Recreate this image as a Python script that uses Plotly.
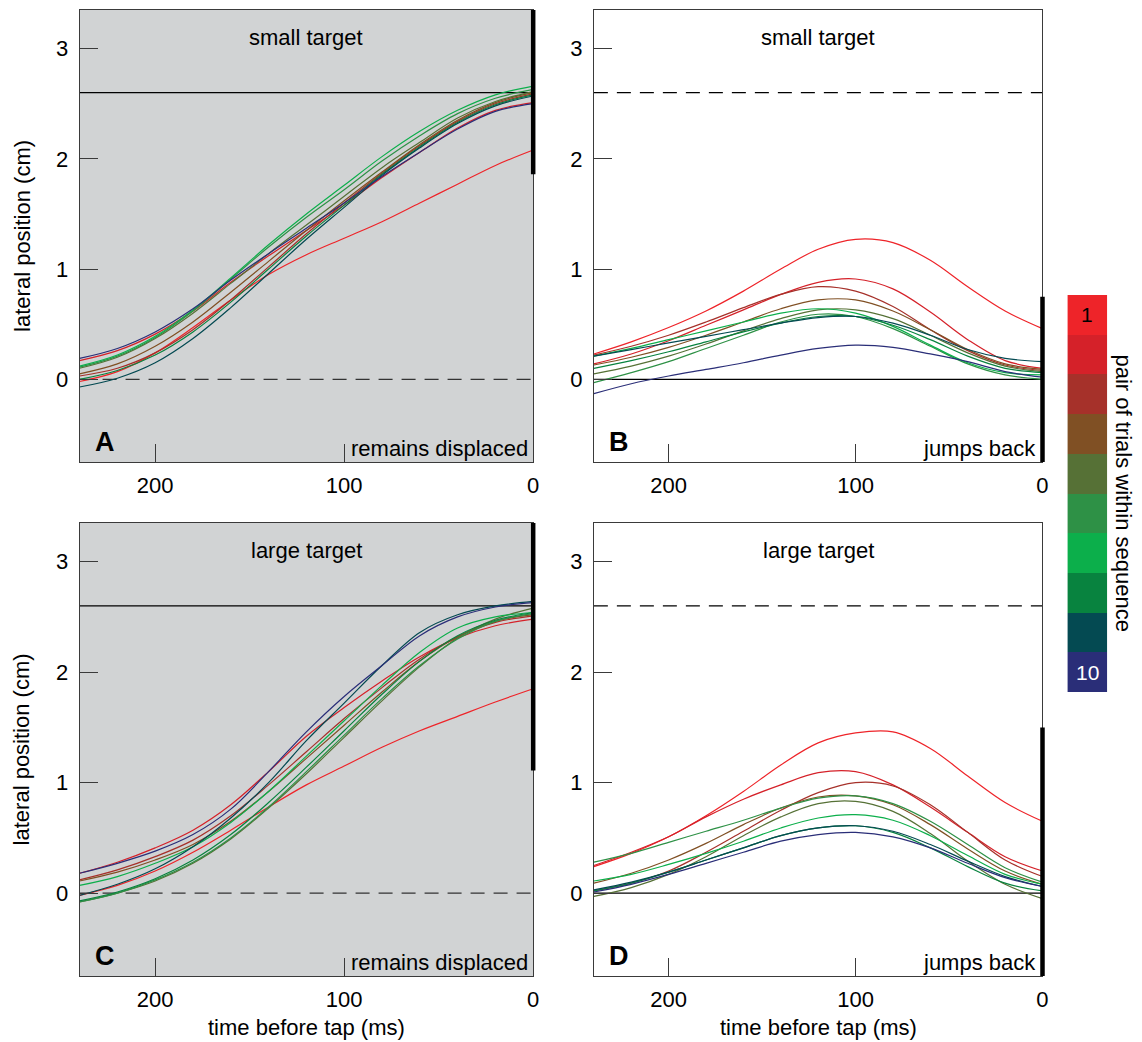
import plotly.graph_objects as go

# ---------------- data ----------------
time_ms = [240, 220, 200, 180, 160, 140, 120, 100, 80, 60, 40, 20, 0]
pair_labels = [str(i) for i in range(1, 11)]
pair_colors = ['#EE2429', '#D52129', '#A6312A', '#805024', '#567136',
               '#2E9146', '#0CAF4B', '#08833F', '#044A52', '#2A2E78']

# Panel A: small target, remains displaced (pairs 1..10)
panel_a = [
    [-0.02, 0.07, 0.24, 0.47, 0.72, 0.95, 1.13, 1.28, 1.43, 1.60, 1.77, 1.94, 2.08],
    [0.17, 0.26, 0.41, 0.62, 0.88, 1.12, 1.35, 1.58, 1.83, 2.06, 2.28, 2.44, 2.51],
    [0.03, 0.10, 0.24, 0.45, 0.72, 1.02, 1.32, 1.60, 1.87, 2.12, 2.34, 2.50, 2.59],
    [0.05, 0.14, 0.30, 0.52, 0.79, 1.07, 1.35, 1.62, 1.88, 2.13, 2.35, 2.51, 2.60],
    [0.10, 0.20, 0.37, 0.60, 0.87, 1.14, 1.40, 1.66, 1.92, 2.15, 2.37, 2.52, 2.61],
    [0.11, 0.21, 0.38, 0.62, 0.91, 1.20, 1.47, 1.72, 1.98, 2.21, 2.41, 2.55, 2.63],
    [0.12, 0.22, 0.39, 0.63, 0.92, 1.22, 1.50, 1.76, 2.02, 2.25, 2.44, 2.58, 2.66],
    [0.00, 0.08, 0.22, 0.43, 0.70, 1.00, 1.30, 1.58, 1.86, 2.11, 2.33, 2.49, 2.58],
    [-0.07, 0.01, 0.15, 0.37, 0.65, 0.96, 1.27, 1.56, 1.85, 2.10, 2.32, 2.48, 2.57],
    [0.19, 0.28, 0.43, 0.64, 0.90, 1.14, 1.37, 1.60, 1.84, 2.06, 2.27, 2.43, 2.50],
]
# Panel B: small target, jumps back
panel_b = [
    [0.23, 0.34, 0.47, 0.62, 0.80, 1.00, 1.18, 1.27, 1.24, 1.08, 0.84, 0.62, 0.46],
    [0.14, 0.23, 0.35, 0.49, 0.63, 0.77, 0.88, 0.91, 0.82, 0.61, 0.36, 0.17, 0.10],
    [0.22, 0.30, 0.40, 0.52, 0.65, 0.77, 0.84, 0.80, 0.66, 0.45, 0.26, 0.13, 0.08],
    [0.13, 0.20, 0.29, 0.40, 0.52, 0.64, 0.72, 0.72, 0.62, 0.45, 0.27, 0.14, 0.09],
    [0.05, 0.12, 0.21, 0.32, 0.44, 0.55, 0.63, 0.63, 0.55, 0.40, 0.24, 0.12, 0.07],
    [-0.03, 0.06, 0.16, 0.28, 0.40, 0.52, 0.59, 0.57, 0.46, 0.30, 0.14, 0.04, 0.00],
    [0.21, 0.28, 0.36, 0.44, 0.52, 0.60, 0.64, 0.60, 0.48, 0.31, 0.15, 0.06, 0.04],
    [0.10, 0.17, 0.25, 0.34, 0.43, 0.51, 0.57, 0.57, 0.49, 0.36, 0.21, 0.10, 0.06],
    [0.21, 0.27, 0.33, 0.39, 0.45, 0.51, 0.56, 0.57, 0.51, 0.40, 0.27, 0.19, 0.16],
    [-0.13, -0.04, 0.03, 0.09, 0.15, 0.22, 0.28, 0.31, 0.29, 0.23, 0.16, 0.07, 0.02],
]
# Panel C: large target, remains displaced
panel_c = [
    [-0.02, 0.07, 0.20, 0.37, 0.57, 0.78, 0.98, 1.15, 1.32, 1.47, 1.60, 1.73, 1.85],
    [0.18, 0.28, 0.41, 0.57, 0.80, 1.10, 1.42, 1.68, 1.92, 2.14, 2.31, 2.42, 2.48],
    [0.12, 0.21, 0.33, 0.48, 0.70, 0.98, 1.28, 1.58, 1.86, 2.12, 2.32, 2.45, 2.51],
    [0.11, 0.19, 0.30, 0.44, 0.65, 0.92, 1.22, 1.52, 1.82, 2.10, 2.32, 2.46, 2.52],
    [-0.08, 0.00, 0.11, 0.27, 0.49, 0.77, 1.08, 1.41, 1.74, 2.05, 2.31, 2.48, 2.58],
    [-0.08, 0.00, 0.12, 0.28, 0.50, 0.78, 1.10, 1.43, 1.76, 2.06, 2.30, 2.46, 2.53],
    [0.07, 0.15, 0.27, 0.42, 0.64, 0.92, 1.24, 1.56, 1.88, 2.18, 2.40, 2.50, 2.54],
    [-0.07, 0.01, 0.13, 0.30, 0.53, 0.82, 1.14, 1.47, 1.80, 2.10, 2.33, 2.47, 2.54],
    [-0.02, 0.08, 0.22, 0.42, 0.68, 1.00, 1.38, 1.72, 2.06, 2.36, 2.52, 2.60, 2.64],
    [0.18, 0.27, 0.38, 0.53, 0.76, 1.10, 1.46, 1.78, 2.06, 2.33, 2.50, 2.59, 2.63],
]
# Panel D: large target, jumps back
panel_d = [
    [0.24, 0.36, 0.51, 0.70, 0.92, 1.16, 1.36, 1.45, 1.46, 1.31, 1.06, 0.82, 0.65],
    [0.25, 0.37, 0.51, 0.69, 0.85, 0.98, 1.09, 1.10, 0.98, 0.78, 0.55, 0.33, 0.20],
    [0.02, 0.09, 0.20, 0.37, 0.56, 0.75, 0.91, 1.00, 0.97, 0.80, 0.55, 0.30, 0.15],
    [0.09, 0.18, 0.30, 0.45, 0.62, 0.77, 0.87, 0.88, 0.80, 0.62, 0.40, 0.20, 0.08],
    [-0.03, 0.05, 0.17, 0.33, 0.52, 0.69, 0.81, 0.83, 0.74, 0.54, 0.29, 0.08, -0.05],
    [0.28, 0.36, 0.46, 0.56, 0.66, 0.77, 0.86, 0.88, 0.81, 0.65, 0.44, 0.23, 0.10],
    [0.11, 0.17, 0.26, 0.36, 0.47, 0.59, 0.68, 0.71, 0.66, 0.52, 0.34, 0.17, 0.08],
    [0.02, 0.09, 0.19, 0.30, 0.41, 0.52, 0.59, 0.61, 0.55, 0.41, 0.24, 0.09, 0.02],
    [0.03, 0.10, 0.19, 0.30, 0.41, 0.52, 0.59, 0.61, 0.56, 0.44, 0.29, 0.15, 0.06],
    [0.01, 0.08, 0.17, 0.27, 0.37, 0.47, 0.53, 0.55, 0.51, 0.41, 0.27, 0.14, 0.06],
]

target_pos = 2.6      # displaced target position (cm)
start_pos = 0.0       # original target position (cm)
# thick bar at tap time: (low, high) in cm
bar_a = [1.86, 3.35]
bar_b = [-0.75, 0.75]
bar_c = [1.11, 3.35]
bar_d = [-0.75, 1.50]

panel_titles = ['small target', 'small target', 'large target', 'large target']
panel_letters = ['A', 'B', 'C', 'D']
panel_notes = ['remains displaced', 'jumps back', 'remains displaced', 'jumps back']

x_ticks = [200, 100, 0]
y_ticks = [0, 1, 2, 3]

# ---------------- figure ----------------
FONT = 'Liberation Sans, Arial, Helvetica, sans-serif'
FS = 22
GRAY = '#D1D3D4'
FRAME = '#3a3a3a'

fig = go.Figure()

panels = [panel_a, panel_b, panel_c, panel_d]
bars = [bar_a, bar_b, bar_c, bar_d]
axnames = [('x', 'y'), ('x2', 'y2'), ('x3', 'y3'), ('x4', 'y4')]

for p, data in enumerate(panels):
    xa, ya = axnames[p]
    for i, ys in enumerate(data):
        fig.add_trace(go.Scatter(
            x=time_ms, y=ys, mode='lines', xaxis=xa, yaxis=ya,
            line=dict(color=pair_colors[i], width=1.2, shape='spline'),
            showlegend=False, hoverinfo='skip'))

shapes = []
annotations = []
for p in range(4):
    xa, ya = axnames[p]
    displaced = (p % 2 == 0)
    if displaced:
        shapes.append(dict(type='rect', xref=xa + ' domain', yref=ya + ' domain',
                           x0=0, x1=1, y0=0, y1=1, fillcolor=GRAY,
                           line=dict(width=0), layer='below'))
    shapes.append(dict(type='line', xref=xa + ' domain', yref=ya,
                       x0=0, x1=1, y0=target_pos, y1=target_pos, layer='below',
                       line=dict(color='black', width=1.2,
                                 dash='solid' if displaced else '14px,9px')))
    shapes.append(dict(type='line', xref=xa + ' domain', yref=ya,
                       x0=0, x1=1, y0=start_pos, y1=start_pos, layer='below',
                       line=dict(color='#333333' if displaced else 'black', width=1.2,
                                 dash='14px,9px' if displaced else 'solid')))
    shapes.append(dict(type='line', xref=xa + ' domain', yref=ya,
                       x0=1, x1=1, y0=bars[p][0], y1=bars[p][1], layer='above',
                       line=dict(color='black', width=4.5)))
    annotations.append(dict(text=panel_titles[p], xref=xa + ' domain', yref=ya + ' domain',
                            x=0.5, y=0.94, showarrow=False, xanchor='center', yanchor='middle',
                            font=dict(size=FS, color='black', family=FONT)))
    annotations.append(dict(text='<b>' + panel_letters[p] + '</b>', xref=xa + ' domain',
                            yref=ya + ' domain', x=0.057, y=0.045, showarrow=False,
                            xanchor='center', yanchor='middle',
                            font=dict(size=27, color='black', family=FONT)))
    annotations.append(dict(text=panel_notes[p], xref=xa + ' domain', yref=ya + ' domain',
                            x=0.993 if displaced else 0.989, y=0.03, showarrow=False,
                            xanchor='right', yanchor='middle',
                            font=dict(size=FS, color='black', family=FONT)))

annotations.append(dict(text='lateral position (cm)', xref='paper', yref='y domain',
                        x=22 / 1142, y=0.5, textangle=-90, showarrow=False,
                        xanchor='center', yanchor='middle',
                        font=dict(size=FS, color='black', family=FONT)))
annotations.append(dict(text='lateral position (cm)', xref='paper', yref='y3 domain',
                        x=22 / 1142, y=0.5, textangle=-90, showarrow=False,
                        xanchor='center', yanchor='middle',
                        font=dict(size=FS, color='black', family=FONT)))
for xa in ['x3', 'x4']:
    annotations.append(dict(text='time before tap (ms)', xref=xa + ' domain', yref='paper',
                            x=0.5, y=1 - 1027 / 1042, showarrow=False,
                            xanchor='center', yanchor='middle',
                            font=dict(size=FS, color='black', family=FONT)))

# colour key
fig.add_trace(go.Heatmap(
    z=[[i + 1] for i in range(10)], x=[0], y=list(range(1, 11)),
    xaxis='x5', yaxis='y5', zmin=0.5, zmax=10.5, showscale=False, hoverinfo='skip',
    colorscale=[v for i, c in enumerate(pair_colors) for v in ([i / 10, c], [(i + 1) / 10, c])]))
annotations.append(dict(text=pair_labels[0], xref='x5', yref='y5', x=0, y=1, showarrow=False,
                        font=dict(size=21, color='black', family=FONT)))
annotations.append(dict(text=pair_labels[-1], xref='x5', yref='y5', x=0, y=10, showarrow=False,
                        font=dict(size=21, color='white', family=FONT)))
annotations.append(dict(text='pair of trials within sequence', xref='paper', yref='y5 domain',
                        x=1129 / 1142, y=0.5, textangle=90, showarrow=False,
                        xanchor='center', yanchor='middle',
                        font=dict(size=FS, color='black', family=FONT)))

xdom_l = [80 / 1142, 536 / 1142]
xdom_r = [597 / 1142, 1048 / 1142]
ydom_t = [1 - 462 / 1042, 1 - 10 / 1042]
ydom_b = [1 - 976 / 1042, 1 - 523 / 1042]

def xaxis(dom, anchor):
    return dict(domain=dom, anchor=anchor, range=[240, 0], tickvals=x_ticks,
                ticks='inside', ticklen=18, tickcolor=FRAME, tickwidth=1,
                showline=True, mirror=True, linecolor=FRAME, linewidth=1,
                showgrid=False, zeroline=False, ticklabelstandoff=4,
                tickfont=dict(size=FS, color='black', family=FONT))

def yaxis(dom, anchor):
    return dict(domain=dom, anchor=anchor, range=[-0.75, 3.35], tickvals=y_ticks,
                ticks='inside', ticklen=18, tickcolor=FRAME, tickwidth=1,
                showline=True, mirror=True, linecolor=FRAME, linewidth=1,
                showgrid=False, zeroline=False, ticklabelstandoff=6,
                tickfont=dict(size=FS, color='black', family=FONT))

fig.update_layout(
    width=1142, height=1042, margin=dict(l=0, r=0, t=0, b=0),
    paper_bgcolor='white', plot_bgcolor='white',
    xaxis=xaxis(xdom_l, 'y'), yaxis=yaxis(ydom_t, 'x'),
    xaxis2=xaxis(xdom_r, 'y2'), yaxis2=yaxis(ydom_t, 'x2'),
    xaxis3=xaxis(xdom_l, 'y3'), yaxis3=yaxis(ydom_b, 'x3'),
    xaxis4=xaxis(xdom_r, 'y4'), yaxis4=yaxis(ydom_b, 'x4'),
    xaxis5=dict(domain=[1073 / 1142, 1113 / 1142], anchor='y5', visible=False),
    yaxis5=dict(domain=[1 - 692 / 1042, 1 - 295 / 1042], anchor='x5', visible=False,
                range=[10.5, 0.5]),
    shapes=shapes, annotations=annotations,
    font=dict(family=FONT, color='black'),
    hovermode=False,
)

fig.write_html('out.html', config={'displayModeBar': False, 'staticPlot': True},
               post_script="document.body.style.margin='0';document.body.style.overflow='hidden';")
